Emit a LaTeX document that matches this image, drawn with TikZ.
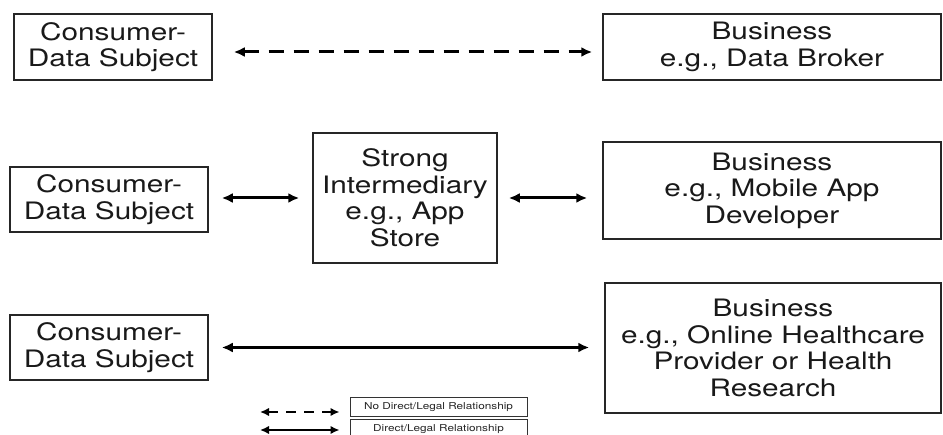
\documentclass[tikz,border=0pt]{standalone}
\usepackage{fontspec}
\setmainfont{TeX Gyre Heros}[FakeStretch=1.24]
\usetikzlibrary{arrows.meta,calc}
\begin{document}
\begin{tikzpicture}[x=1pt,y=-1pt,
  box/.style={draw=black!85,line width=1.5pt,align=center,inner sep=0pt,
    font=\fontsize{24}{26.5}\selectfont,text=black!90},
  rel/.style={line width=3pt,{Latex[length=11pt,width=10pt]}-{Latex[length=11pt,width=10pt]}},
  norel/.style={rel,dash pattern=on 15pt off 10pt},
  legbox/.style={draw=black!80,line width=1pt,inner sep=0pt,
    font=\fontsize{9.5}{10}\selectfont,text=black!85,minimum width=177pt},
  legrel/.style={line width=2.4pt,{Latex[length=9pt,width=8.5pt]}-{Latex[length=9pt,width=8.5pt]}},
  legnorel/.style={legrel,dash pattern=on 10pt off 8pt}]
\useasboundingbox (0,0) rectangle (943,435);
% top row
\node[box,minimum width=198pt,minimum height=66pt] (c1) at (113,47) {Consumer-\\Data Subject};
\node[box,minimum width=338pt,minimum height=66pt] (b1) at (772,47) {Business\\e.g., Data Broker};
\draw[norel] ([xshift=21pt,yshift=-5pt]c1.east) -- ([xshift=-10pt,yshift=-5pt]b1.west);
% middle row
\node[box,minimum width=198pt,minimum height=65pt] (c2) at (109,199.5) {Consumer-\\Data Subject};
\node[box,minimum width=184pt,minimum height=130pt] (m) at (405,198) {Strong\\Intermediary\\e.g., App\\Store};
\node[box,minimum width=338pt,minimum height=97pt] (b2) at (772,190.5) {Business\\e.g., Mobile App\\Developer};
\draw[rel] ([xshift=13pt]c2.east |- m.west) -- ([xshift=-13pt]m.west);
\draw[rel] ([xshift=11pt]m.east) -- ([xshift=-15pt]m.east -| b2.west);
% bottom row
\node[box,minimum width=198pt,minimum height=65pt] (c3) at (109,347.5) {Consumer-\\Data Subject};
\node[box,minimum width=336pt,minimum height=130pt] (b3) at (773,348) {Business\\e.g., Online Healthcare\\Provider or Health\\Research};
\draw[rel] ([xshift=13pt]c3.east) -- ([xshift=-15pt]c3.east -| b3.west);
% legend
\node[legbox,minimum height=19pt] (lg1) at (438.5,407.5) {No Direct/Legal Relationship};
\node[legbox,minimum height=18pt] (lg2) at (438.5,429) {Direct/Legal Relationship};
\coordinate (la) at (260,412);
\coordinate (lb) at (260,430);
\draw[legnorel] (la) -- ([xshift=-10pt]la -| lg1.west);
\draw[legrel] (lb) -- ([xshift=-10pt]lb -| lg2.west);
\end{tikzpicture}
\end{document}
